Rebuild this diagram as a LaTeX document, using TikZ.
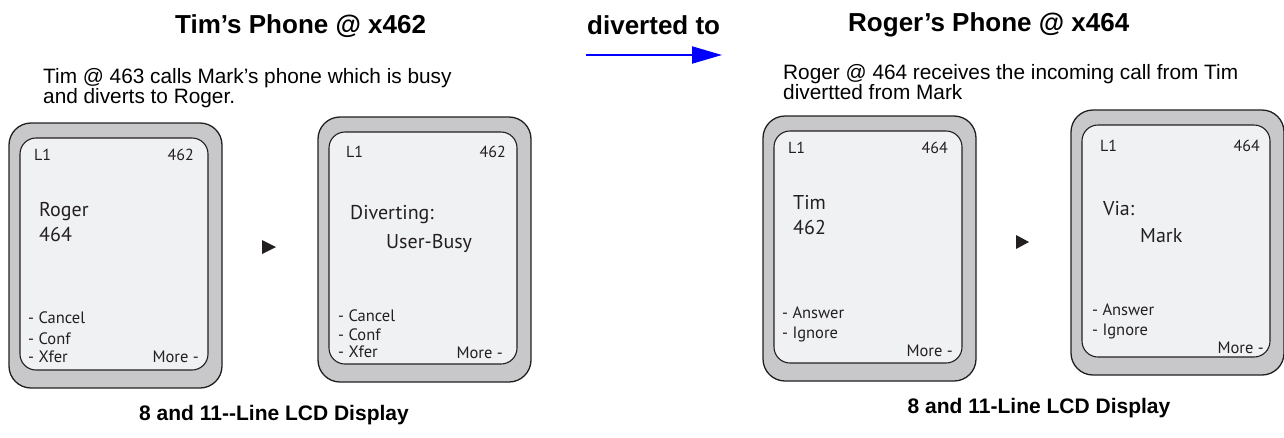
\documentclass[tikz,border=0pt]{standalone}
\usepackage{fontspec}
\setmainfont{Liberation Sans}
\newfontfamily\lcdfont{PT Sans}
\usepackage{xcolor}
\definecolor{bezelgray}{RGB}{200,200,202}
\definecolor{lcdface}{RGB}{240,241,243}
\definecolor{rim}{RGB}{35,31,32}
\definecolor{divblue}{RGB}{0,0,255}
\usepackage{tikz}
\usetikzlibrary{arrows.meta,positioning}
\tikzset{
  %% phone body and its screen
  bezel/.style={draw=rim, line width=1.3pt, fill=bezelgray,
    rounded corners=22pt, minimum width=213pt, minimum height=265pt,
    inner sep=0pt},
  screen/.style={draw=rim, line width=1.1pt, fill=lcdface,
    rounded corners=16pt, minimum width=188pt, minimum height=232pt,
    inner sep=0pt},
  %% texts on the screens
  hdr/.style={font=\lcdfont\fontsize{16}{18}\selectfont, text=rim, inner sep=0pt},
  bigtext/.style={font=\lcdfont\fontsize{20}{22}\selectfont, text=rim, inner sep=0pt},
  softkey/.style={font=\lcdfont\fontsize{16.5}{18}\selectfont, text=rim, inner sep=0pt},
  %% texts round the phones
  heading/.style={font=\fontsize{26}{30}\selectfont\bfseries, inner sep=0pt, anchor=base west},
  blurb/.style={font=\fontsize{20.8}{20}\selectfont, align=left, inner sep=0pt,
    anchor=north west},
  caption/.style={font=\fontsize{21}{25}\selectfont\bfseries, inner sep=0pt, anchor=base},
  divarrow/.style={draw=divblue, line width=2pt,
    -{Triangle[length=30pt, width=17pt]}},
}

\begin{document}
\begin{tikzpicture}[x=1pt, y=-1pt]
\useasboundingbox (0,0) rectangle (1284,437);

%% headings
\node[heading] (timhead) at (175,33) {Tim’s Phone @ x462};
\node[heading] (divhead) at (587,34) {diverted to};
\node[heading] (roghead) at (848,31) {Roger’s Phone @ x464};
\node[blurb] (timblurb) at (43,68) {Tim @ 463 calls Mark’s phone which is busy\\and diverts to Roger.};
\node[blurb] (rogblurb) at (783,64) {Roger @ 464 receives the incoming call from Tim\\divertted from Mark};

\coordinate (arrstart) at (586,55);
\coordinate (arrend) at (722,55);
\draw[divarrow] (arrstart) -- (arrend);

%% the four phones
\foreach \n/\x/\y in {1/115.5/255.5, 2/424.5/249.5, 3/869.5/248.5, 4/1177.5/242.5}{
  \node[bezel] (phone\n) at (\x,\y) {};
  \node[screen] (lcd\n) at ([shift={(-1.5,-1.5)}]phone\n.center) {};
}

%% Tim, first screen
\node[hdr, anchor=base west] (line1) at (34,160) {L1};
\node[hdr, anchor=base east] (ext1) at (194,160) {462};
\node[bigtext, anchor=base west] (name1) at (39,216) {Roger};
\node[bigtext, anchor=base west] (num1) at (39,241) {464};
\node[softkey, anchor=base west] (cancel1) at (28,323) {- Cancel};
\node[softkey, anchor=base west] (conf1) at (28,344) {- Conf};
\node[softkey, anchor=base west] (xfer1) at (28,362) {- Xfer};
\node[softkey, anchor=base east] (more1) at (199,362) {More -};

\fill[rim] (262,240) -- (276,247) -- (262,254) -- cycle;

%% Tim, second screen
\node[hdr, anchor=base west] (line2) at (346,157) {L1};
\node[hdr, anchor=base east] (ext2) at (506,157) {462};
\node[bigtext, anchor=base west] (name2) at (350,219) {Diverting:};
\node[bigtext, anchor=base west] (num2) at (386,248) {User-Busy};
\node[softkey, anchor=base west] (cancel2) at (338,321) {- Cancel};
\node[softkey, anchor=base west] (conf2) at (338,340) {- Conf};
\node[softkey, anchor=base west] (xfer2) at (338,357) {- Xfer};
\node[softkey, anchor=base east] (more2) at (503,358) {More -};

%% Roger, first screen
\node[hdr, anchor=base west] (line3) at (788,153) {L1};
\node[hdr, anchor=base east] (ext3) at (948,153) {464};
\node[bigtext, anchor=base west] (name3) at (793,209) {Tim};
\node[bigtext, anchor=base west] (num3) at (793,234) {462};
\node[softkey, anchor=base west] (answer3) at (782,318) {- Answer};
\node[softkey, anchor=base west] (ignore3) at (782,338) {- Ignore};
\node[softkey, anchor=base east] (more3) at (953,356) {More -};

\fill[rim] (1016,235) -- (1029,242) -- (1016,249) -- cycle;

%% Roger, second screen
\node[hdr, anchor=base west] (line4) at (1100,151) {L1};
\node[hdr, anchor=base east] (ext4) at (1260,151) {464};
\node[bigtext, anchor=base west] (name4) at (1103,215) {Via:};
\node[bigtext, anchor=base west] (num4) at (1140,242) {Mark};
\node[softkey, anchor=base west] (answer4) at (1092,315) {- Answer};
\node[softkey, anchor=base west] (ignore4) at (1092,335) {- Ignore};
\node[softkey, anchor=base east] (more4) at (1264,353) {More -};

%% captions
\node[caption] (timcap) at (274,420) {8 and 11-{}-Line LCD Display};
\node[caption] (rogcap) at (1039,413) {8 and 11-Line LCD Display};
\end{tikzpicture}
\end{document}
